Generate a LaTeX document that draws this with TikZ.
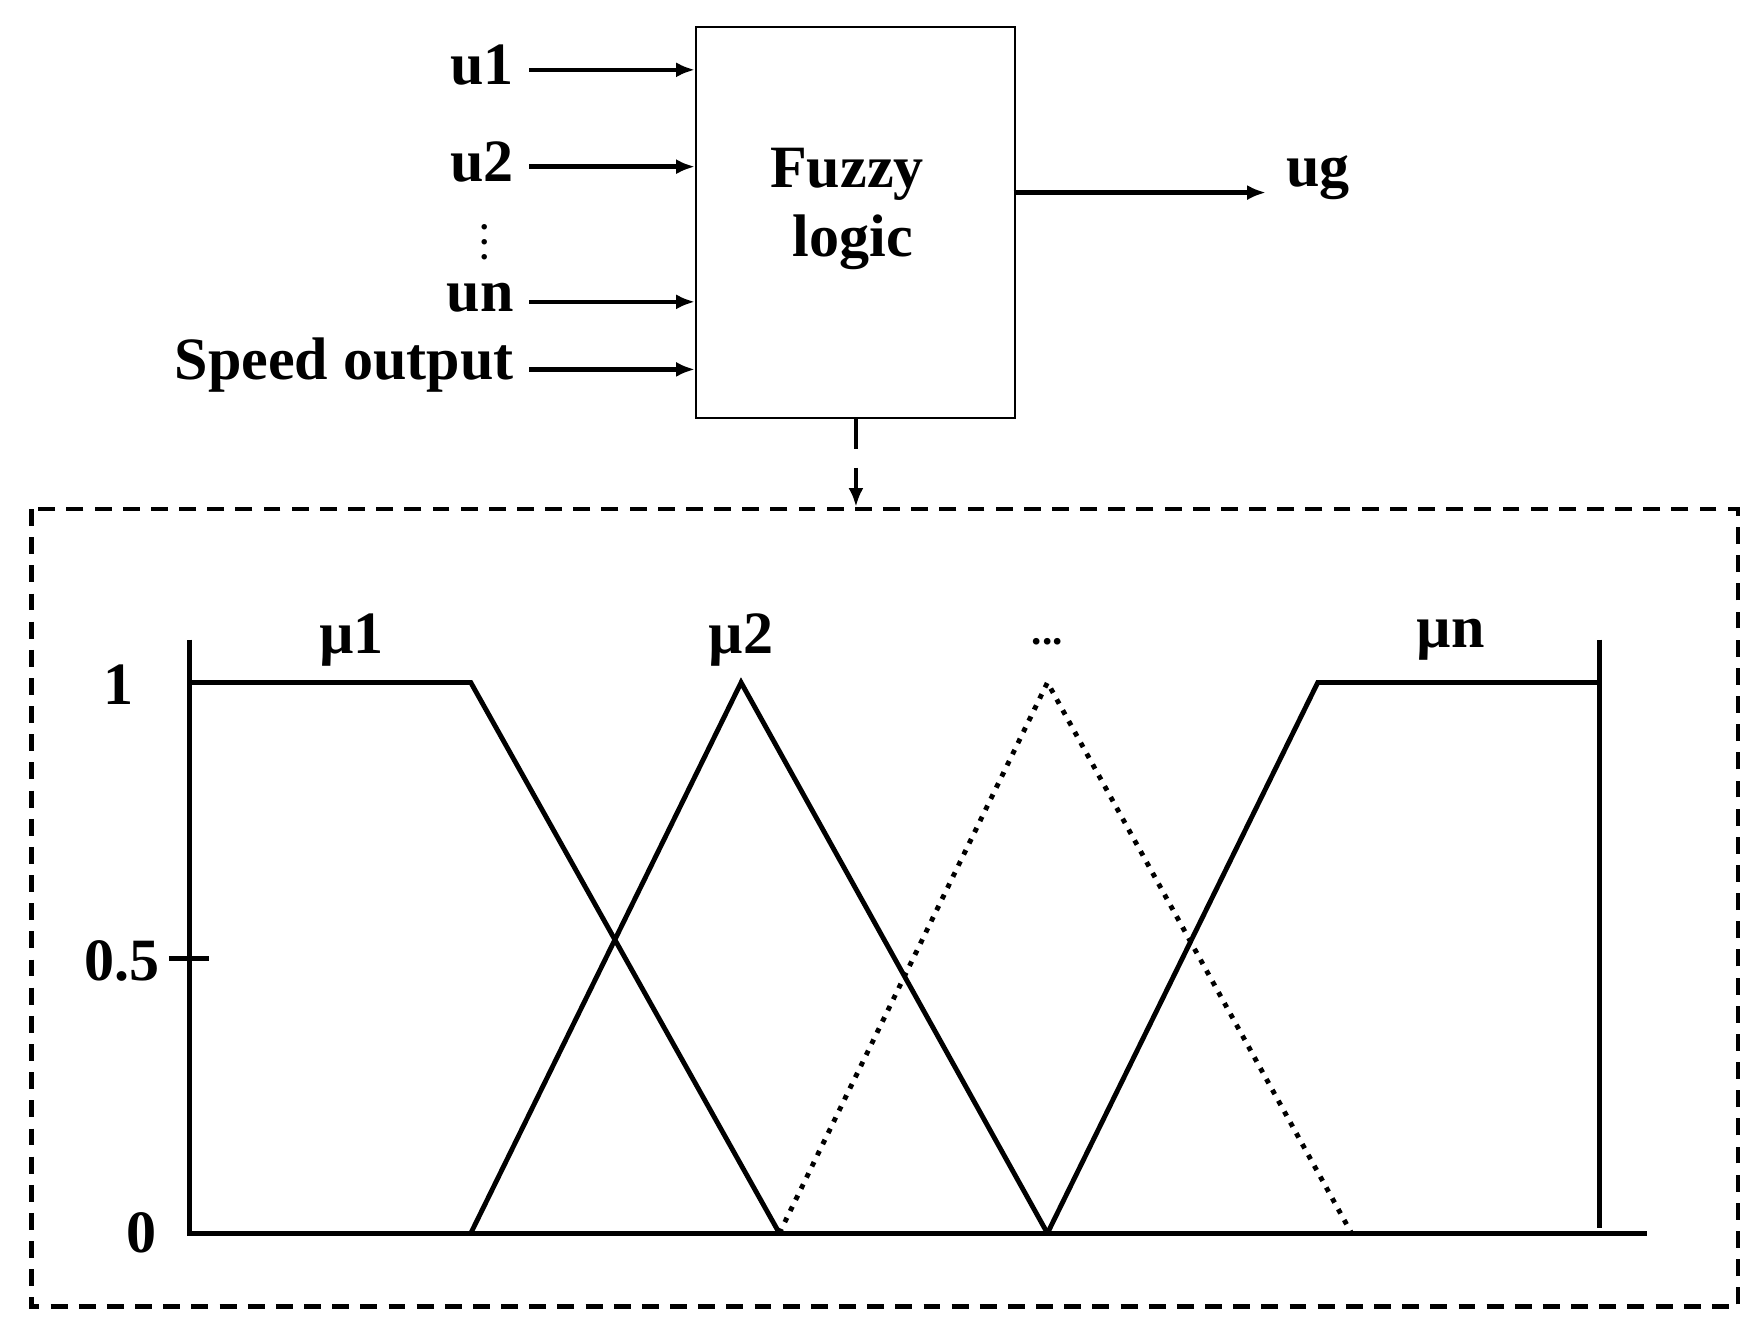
\documentclass[tikz,border=0pt]{standalone}
\usepackage{fontspec}
\setmainfont{Liberation Serif}
\usetikzlibrary{arrows.meta}
\begin{document}
\begin{tikzpicture}[x=0.3pt,y=-0.3pt,
  lbl/.style={font=\fontsize{16}{18}\selectfont\bfseries,inner sep=1pt},
  arr/.style={line width=1.2pt,-{Latex[length=5pt,width=4pt]}},
  thk/.style={line width=1.3pt}]
\useasboundingbox (0,0) rectangle (1560,1178);
\node[draw,line width=0.5pt,minimum width=283*0.3pt,minimum height=347*0.3pt,anchor=north west,inner sep=0] (box) at (617,23) {};
\node[lbl] (f1) at (752,155) {Fuzzy};
\node[lbl] (f2) at (757,215) {logic};
\foreach \n/\t/\y in {a/u1/62,b/u2/148,c/un/268,d/Speed output/328}{
  \node[lbl,anchor=east] (\n) at (460,\y-4) {\t};
  \coordinate (\n s) at (470,\y);
  \coordinate (\n e) at (617,\y);
  \draw[arr] (\n s) -- (\n e);
}
\node[font=\small\bfseries,inner sep=0] (vd) at (430,205) {$\vdots$};
\coordinate (os) at (900,171);
\node[lbl,anchor=west] (ug) at (1138,158) {ug};
\coordinate (oe) at (1124,171);
\draw[arr] (os) -- (oe);
\coordinate (ds) at (760,372);
\coordinate (de) at (760,450);
\draw[arr,dash pattern=on 8pt off 5pt] (ds) -- (de);
\draw[line width=1.2pt,dash pattern=on 4.5pt off 3pt] (28,452) rectangle (1543,1160);
\draw[thk] (168,568) -- (168,1095) -- (1462,1095);
\draw[thk] (1420,568) -- (1420,1090);
\draw[thk] (150,851) -- (186,851);
\draw[thk] (168,606) -- (418,606) -- (692,1095);
\draw[thk] (418,1095) -- (658,606) -- (930,1095);
\draw[line width=1.3pt,dotted] (692,1095) -- (930,606) -- (1200,1095);
\draw[thk] (930,1095) -- (1170,606) -- (1420,606);
\node[lbl] (m1) at (312,568) {µ1};
\node[lbl] (m2) at (658,568) {µ2};
\node[font=\fontsize{11}{12}\selectfont\bfseries] (md) at (930,570) {...};
\node[lbl] (mn) at (1288,568) {µn};
\node[lbl] (y1) at (105,608) {1};
\node[lbl] (y5) at (108,853) {0.5};
\node[lbl] (y0) at (126,1095) {0};
\end{tikzpicture}
\end{document}
